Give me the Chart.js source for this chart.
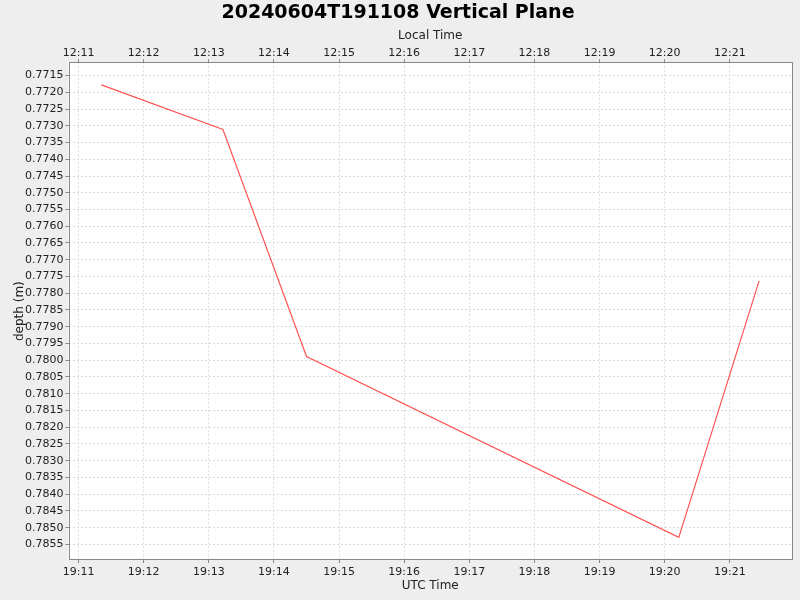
<!DOCTYPE html>
<html lang="en">
<head>
  <meta charset="UTF-8" />
  <title>20240604T191108 Vertical Plane</title>
  <script src="https://cdn.jsdelivr.net/npm/chart.js"></script>
  <style>
    html, body { margin: 0; padding: 0; background: #eeeeee; }
    canvas { display: block; }
  </style>
</head>
<body>
  <canvas id="depthChart" width="800" height="600"></canvas>

  <script>
    // samples (UTC time) and depth in metres
    const sampleTimes = ['19:11:21', '19:13:13', '19:14:30', '19:20:13', '19:21:27'];
    const depths = [0.77178, 0.77311, 0.77989, 0.78529, 0.77763];

    // axis ticks
    const utcTickLabels = ['19:11', '19:12', '19:13', '19:14', '19:15', '19:16', '19:17', '19:18', '19:19', '19:20', '19:21'];
    const localTickLabels = ['12:11', '12:12', '12:13', '12:14', '12:15', '12:16', '12:17', '12:18', '12:19', '12:20', '12:21'];
    const depthTicks = [
      0.7715, 0.7720, 0.7725, 0.7730, 0.7735, 0.7740, 0.7745, 0.7750, 0.7755, 0.7760,
      0.7765, 0.7770, 0.7775, 0.7780, 0.7785, 0.7790, 0.7795, 0.7800, 0.7805, 0.7810,
      0.7815, 0.7820, 0.7825, 0.7830, 0.7835, 0.7840, 0.7845, 0.7850, 0.7855
    ];

    // "HH:MM" or "HH:MM:SS" -> seconds since midnight
    const toSec = s => {
      const [h, m, sec = 0] = s.split(':').map(Number);
      return h * 3600 + m * 60 + sec;
    };

    const points = sampleTimes.map((t, i) => ({ x: toSec(t), y: depths[i] }));
    const utcTickValues = utcTickLabels.map(l => toSec(l));

    // 5% margin each side, like the original plot
    const xs = points.map(p => p.x);
    const xSpan = Math.max(...xs) - Math.min(...xs);
    const xMin = Math.min(...xs) - xSpan * 0.05;
    const xMax = Math.max(...xs) + xSpan * 0.05;
    const ySpan = Math.max(...depths) - Math.min(...depths);
    const yMin = Math.min(...depths) - ySpan * 0.05;
    const yMax = Math.max(...depths) + ySpan * 0.05;

    const FONT = 'DejaVu Sans';
    const tickFont = { family: FONT, size: 11 };
    const axisTitleFont = { family: FONT, size: 12 };

    const gridStyle = {
      color: '#dcdcdc',
      lineWidth: 1,
      tickColor: '#888888',
      tickLength: 3,
      tickBorderDash: []
    };

    // white plot background + grey outline
    const plotFrame = {
      id: 'plotFrame',
      beforeDraw(chart) {
        const { ctx, chartArea: a } = chart;
        ctx.save();
        ctx.fillStyle = '#ffffff';
        ctx.fillRect(a.left, a.top, a.right - a.left, a.bottom - a.top);
        ctx.restore();
      },
      afterDraw(chart) {
        const { ctx, chartArea: a } = chart;
        ctx.save();
        ctx.strokeStyle = '#888888';
        ctx.lineWidth = 1;
        ctx.strokeRect(Math.round(a.left) + 0.5, Math.round(a.top) + 0.5,
          Math.round(a.right - a.left) - 1, Math.round(a.bottom - a.top) - 1);
        ctx.restore();
      }
    };

    const ctx = document.getElementById('depthChart').getContext('2d');
    new Chart(ctx, {
      type: 'line',
      data: {
        datasets: [{
          data: points,
          borderColor: '#ff5555',
          borderWidth: 1.2,
          pointRadius: 0,
          tension: 0,
          xAxisID: 'x',
          yAxisID: 'y'
        }]
      },
      options: {
        responsive: false,
        animation: false,
        layout: { padding: { left: 4, right: 8, top: 0, bottom: 0 } },
        plugins: {
          legend: { display: false },
          tooltip: { enabled: false },
          title: {
            display: true,
            text: '20240604T191108 Vertical Plane',
            color: '#000000',
            font: { family: FONT, size: 19, weight: 'bold' },
            padding: { top: 2, bottom: 4 }
          }
        },
        scales: {
          x: {
            type: 'linear',
            position: 'bottom',
            min: xMin,
            max: xMax,
            afterBuildTicks: s => { s.ticks = utcTickValues.map(v => ({ value: v })); },
            afterFit: s => { s.height = 40; },
            ticks: {
              autoSkip: false,
              maxRotation: 0,
              padding: 3,
              color: '#222222',
              font: tickFont,
              callback: (v, i) => utcTickLabels[i]
            },
            grid: gridStyle,
            border: { display: false, dash: [2, 2] },
            title: {
              display: true,
              text: 'UTC Time',
              color: '#222222',
              font: axisTitleFont,
              padding: { top: 0, bottom: 7 }
            }
          },
          x2: {
            type: 'linear',
            position: 'top',
            min: xMin,
            max: xMax,
            afterBuildTicks: s => { s.ticks = utcTickValues.map(v => ({ value: v })); },
            afterFit: s => { s.height = 33.5; },
            ticks: {
              autoSkip: false,
              maxRotation: 0,
              padding: 0,
              color: '#222222',
              font: tickFont,
              callback: (v, i) => localTickLabels[i]
            },
            grid: Object.assign({}, gridStyle, { drawOnChartArea: false }),
            border: { display: false },
            title: {
              display: true,
              text: 'Local Time',
              color: '#222222',
              font: axisTitleFont,
              padding: { top: 0, bottom: 0 }
            }
          },
          y: {
            type: 'linear',
            position: 'left',
            reverse: true,
            min: yMin,
            max: yMax,
            afterBuildTicks: s => { s.ticks = depthTicks.map(v => ({ value: v })); },
            afterFit: s => { s.width = 64.5; },
            ticks: {
              autoSkip: false,
              padding: 2,
              color: '#222222',
              font: tickFont,
              callback: (v, i) => depthTicks[i].toFixed(4)
            },
            grid: gridStyle,
            border: { display: false, dash: [2, 2] },
            title: {
              display: true,
              text: 'depth (m)',
              color: '#222222',
              font: axisTitleFont,
              padding: { top: 9, bottom: 0 }
            }
          }
        }
      },
      plugins: [plotFrame]
    });
  </script>
</body>
</html>
